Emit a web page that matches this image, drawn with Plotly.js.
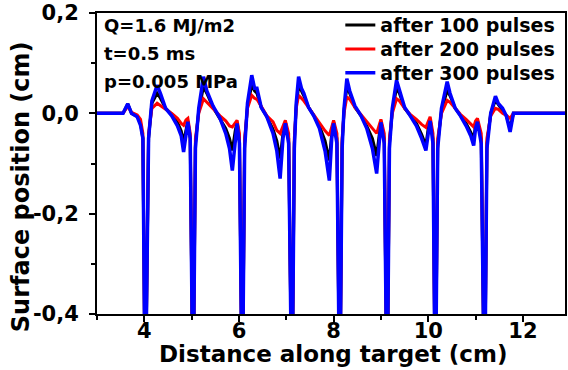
<!DOCTYPE html>
<html>
<head>
<meta charset="utf-8">
<script src="https://cdn.plot.ly/plotly-3.0.1.min.js"></script>
<style>html,body{margin:0;padding:0;background:#fff;}#chart{width:568px;height:370px;}</style>
</head>
<body>
<div id="chart"></div>
<script>
// Distance along target (cm)
const xDist = [3.0, 3.55, 3.65, 3.73, 3.85, 3.92, 3.97, 4.02,
  4.09, 4.16, 4.27, 4.34, 4.45, 4.58, 4.7, 4.78, 4.83, 4.88, 4.92, 4.97, 5.03,
  5.08, 5.15, 5.25, 5.32, 5.45, 5.6, 5.72, 5.8, 5.86, 5.92, 5.96, 6.01, 6.07,
  6.12, 6.18, 6.27, 6.33, 6.38, 6.47, 6.59, 6.72, 6.8, 6.87, 6.93, 6.98, 7.05, 7.12,
  7.17, 7.21, 7.26, 7.32, 7.37, 7.47, 7.58, 7.7, 7.82, 7.91, 7.96, 8.0, 8.07, 8.13,
  8.18, 8.22, 8.28, 8.34, 8.45, 8.58, 8.7, 8.82, 8.91, 8.96, 9.0, 9.07, 9.13,
  9.18, 9.24, 9.33, 9.39, 9.5, 9.62, 9.75, 9.86, 9.95, 10.0, 10.04, 10.1, 10.15,
  10.2, 10.28, 10.4, 10.46, 10.57, 10.68, 10.8, 10.9, 10.96, 11.0, 11.04, 11.12, 11.19,
  11.24, 11.32, 11.42, 11.48, 11.57, 11.65, 11.73, 11.8, 12.9];

// Surface position (cm) after 100 pulses
const yPulses100 = [0, 0, 0.019, 0, -0.006, -0.02, -0.05, -0.6,
  -0.05, 0.02, 0.04, 0.03, 0.01, -0.002, -0.018, -0.035, -0.057, -0.03, -0.015, -0.05, -0.6,
  -0.06, 0.005, 0.053, 0.04, 0.012, -0.01, -0.03, -0.05, -0.074, -0.035, -0.017, -0.05, -0.6,
  -0.06, 0.015, 0.056, 0.045, 0.04, 0.012, -0.007, -0.032, -0.055, -0.09, -0.04, -0.017, -0.05, -0.6,
  -0.06, 0.015, 0.053, 0.045, 0.035, 0.012, -0.004, -0.025, -0.055, -0.094, -0.04, -0.017, -0.05, -0.6,
  -0.06, 0.005, 0.053, 0.04, 0.012, -0.005, -0.025, -0.05, -0.085, -0.04, -0.015, -0.05, -0.6,
  -0.06, 0.005, 0.05, 0.04, 0.01, -0.004, -0.02, -0.042, -0.064, -0.03, -0.012, -0.05, -0.6,
  -0.06, 0.005, 0.046, 0.035, 0.01, -0.005, -0.02, -0.038, -0.05, -0.025, -0.015, -0.05, -0.6,
  -0.06, 0.0, 0.026, 0.018, 0.008, -0.005, -0.03, 0, 0];

// Surface position (cm) after 200 pulses
const yPulses200 = [0, 0, 0.014, 0.002, -0.003, -0.012, -0.04, -0.6,
  -0.04, 0.01, 0.02, 0.015, 0.008, 0.0, -0.01, -0.02, -0.024, -0.013, -0.01, -0.04, -0.6,
  -0.05, 0.0, 0.029, 0.022, 0.01, -0.005, -0.015, -0.025, -0.027, -0.02, -0.014, -0.04, -0.6,
  -0.05, 0.01, 0.036, 0.03, 0.028, 0.013, -0.005, -0.017, -0.034, -0.04, -0.025, -0.014, -0.04, -0.6,
  -0.05, 0.01, 0.036, 0.03, 0.025, 0.012, -0.003, -0.018, -0.035, -0.044, -0.025, -0.014, -0.04, -0.6,
  -0.05, 0.0, 0.033, 0.028, 0.012, -0.002, -0.015, -0.03, -0.04, -0.025, -0.012, -0.04, -0.6,
  -0.05, 0.0, 0.029, 0.025, 0.01, -0.002, -0.012, -0.022, -0.028, -0.015, -0.007, -0.04, -0.6,
  -0.05, 0.0, 0.026, 0.022, 0.01, -0.002, -0.012, -0.022, -0.027, -0.015, -0.01, -0.04, -0.6,
  -0.05, -0.005, 0.01, 0.008, 0.0, -0.004, -0.01, 0, 0];

// Surface position (cm) after 300 pulses
const yPulses300 = [0, 0, 0.019, 0, -0.007, -0.024, -0.05, -0.6,
  -0.05, 0.025, 0.056, 0.04, 0.01, -0.005, -0.025, -0.045, -0.077, -0.04, -0.017, -0.05, -0.6,
  -0.07, 0.01, 0.073, 0.045, 0.015, -0.01, -0.04, -0.07, -0.114, -0.05, -0.02, -0.06, -0.6,
  -0.07, 0.02, 0.076, 0.05, 0.05, 0.012, -0.007, -0.04, -0.075, -0.13, -0.05, -0.02, -0.06, -0.6,
  -0.07, 0.02, 0.073, 0.05, 0.04, 0.012, -0.005, -0.03, -0.075, -0.134, -0.05, -0.02, -0.06, -0.6,
  -0.07, 0.01, 0.069, 0.045, 0.015, -0.005, -0.03, -0.07, -0.12, -0.05, -0.018, -0.06, -0.6,
  -0.07, 0.01, 0.066, 0.045, 0.012, -0.005, -0.025, -0.05, -0.074, -0.04, -0.015, -0.06, -0.6,
  -0.07, 0.01, 0.063, 0.04, 0.01, -0.005, -0.025, -0.045, -0.064, -0.03, -0.017, -0.06, -0.6,
  -0.07, 0.0, 0.034, 0.02, 0.01, -0.005, -0.037, 0, 0];

const seriesNames = ['after 100 pulses', 'after 200 pulses', 'after 300 pulses'];
const xTickVals = [4, 6, 8, 10, 12];
const xTickText = ['4', '6', '8', '10', '12'];
const yTickVals = [-0.4, -0.2, 0.0, 0.2];
const yTickText = ['-0,4', '-0,2', '0,0', '0,2'];
const infoLines = ['Q=1.6 MJ/m2', 't=0.5 ms', 'p=0.005 MPa'];

const FF = 'DejaVu Sans';
const traces = [
  {x: xDist, y: yPulses100, name: seriesNames[0], mode: 'lines', legend: 'legend', line: {color: '#000000', width: 3}},
  {x: xDist, y: yPulses200, name: seriesNames[1], mode: 'lines', legend: 'legend2', line: {color: '#ff0000', width: 3}},
  {x: xDist, y: yPulses300, name: seriesNames[2], mode: 'lines', legend: 'legend3', line: {color: '#0000ff', width: 3.5}}
];

const infoY = [0.959, 0.866, 0.774];
const annotations = infoLines.map((t, i) => ({
  text: t, xref: 'paper', yref: 'paper', x: 0.01, y: infoY[i], xanchor: 'left', yanchor: 'middle',
  showarrow: false, font: {family: FF, size: 18, weight: 'bold', color: '#000'}
}));
annotations.push({
  text: 'Surface position (cm)', xref: 'paper', yref: 'paper', x: -0.162, y: 0.422,
  xanchor: 'center', yanchor: 'middle', textangle: -90, showarrow: false,
  font: {family: FF, size: 24, weight: 'bold', color: '#000'}
});
annotations.push({
  text: 'Distance along target (cm)', xref: 'paper', yref: 'paper', x: 0.504, y: -0.132,
  xanchor: 'center', yanchor: 'middle', showarrow: false,
  font: {family: FF, size: 23, weight: 'bold', color: '#000'}
});

function legendAt(yc) {
  return {x: 0.99, xanchor: 'right', y: yc, yanchor: 'middle', bgcolor: 'rgba(0,0,0,0)',
    borderwidth: 0, font: {family: FF, size: 19, weight: 'bold', color: '#000'}};
}

const layout = {
  width: 568, height: 370,
  margin: {l: 97, r: 3, t: 13, b: 56},
  paper_bgcolor: '#fff', plot_bgcolor: '#fff',
  separators: ',.',
  font: {family: FF, color: '#000'},
  showlegend: true,
  legend: legendAt(0.960),
  legend2: legendAt(0.880),
  legend3: legendAt(0.801),
  xaxis: {
    range: [3, 12.89], showgrid: false, zeroline: false,
    showline: true, linecolor: '#000', linewidth: 2, mirror: true,
    ticks: 'outside', ticklen: 6, tickwidth: 2, tickcolor: '#000',
    tickmode: 'array', tickvals: xTickVals, ticktext: xTickText,
    ticklabelstandoff: -9,
    minor: {tickvals: [3, 5, 7, 9, 11], ticks: 'outside', ticklen: 4, tickwidth: 2, tickcolor: '#000'},
    tickfont: {family: FF, size: 21, weight: 'bold', color: '#000'}
  },
  yaxis: {
    range: [-0.4, 0.2], showgrid: false, zeroline: false,
    showline: true, linecolor: '#000', linewidth: 2, mirror: true,
    ticks: 'outside', ticklen: 6, tickwidth: 2, tickcolor: '#000',
    tickmode: 'array', tickvals: yTickVals, ticktext: yTickText,
    ticklabelstandoff: 6,
    minor: {tickvals: [-0.3, -0.1, 0.1], ticks: 'outside', ticklen: 4, tickwidth: 2, tickcolor: '#000'},
    tickfont: {family: FF, size: 21, weight: 'bold', color: '#000'}
  },
  annotations: annotations
};

Plotly.newPlot('chart', traces, layout, {displayModeBar: false, staticPlot: true});
</script>
</body>
</html>
